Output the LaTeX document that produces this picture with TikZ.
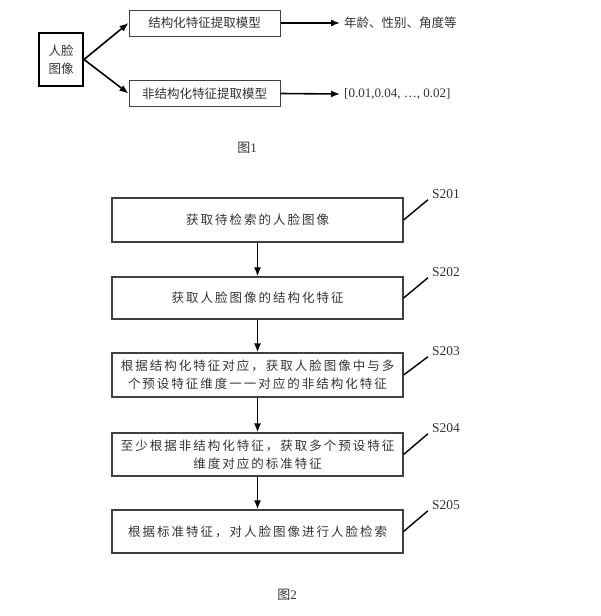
\documentclass[tikz,border=0pt]{standalone}
\usepackage{fontspec}
\setmainfont{Liberation Serif}
\newfontfamily\cjk{Noto Sans CJK SC}
\newfontfamily\cjkwide[LetterSpace=16]{Noto Sans CJK SC}
\usepackage{xcolor}
\usepackage{tikz}
\usetikzlibrary{arrows.meta}
\definecolor{inkgray}{gray}{0.2}
\definecolor{linegray}{gray}{0.25}

\begin{document}
\begin{tikzpicture}[x=1pt,y=-1pt,
    facebox/.style={draw,line width=2pt,minimum width=44pt,minimum height=53pt,inner sep=0pt,align=center,font=\fontsize{12.5}{18}\cjk,text=inkgray},
    modelbox/.style={draw=linegray,line width=1pt,minimum width=151pt,minimum height=26pt,inner sep=0pt,font=\fontsize{12.5}{15}\cjk,text=inkgray},
    outtext/.style={anchor=west,inner xsep=4pt,inner ysep=0pt,font=\fontsize{13}{15}\selectfont,text=inkgray},
    stepbox/.style={draw=linegray,line width=1.2pt,minimum width=291pt,minimum height=43pt,inner sep=0pt,align=center,font=\fontsize{12.5}{18}\cjkwide,text=inkgray},
    steplabel/.style={inner sep=1pt,font=\fontsize{13.5}{15}\selectfont,text=inkgray},
    caption/.style={inner sep=0pt,font=\fontsize{13}{15}\selectfont,text=inkgray},
    flow/.style={-{Latex[length=9pt,width=7pt]},line width=1.6pt},
    leader/.style={line width=1.4pt}]
    \useasboundingbox (0,0) rectangle (600,616);
    % figure 1
    \node[facebox] (face) at (61,59.5) {人脸\\图像};
    \node[modelbox] (m1) at (204.5,23) {结构化特征提取模型};
    \node[modelbox] (m2) at (204.5,93.5) {非结构化特征提取模型};
    \node[outtext,font=\fontsize{12.5}{15}\cjk] (o1) at (340,23) {年龄、性别、角度等};
    \node[outtext] (o2) at (340,94) {[0.01,0.04, …, 0.02]};
    \draw[flow] (face.east) to (m1.west);
    \draw[flow] (face.east) to (m2.west);
    \draw[flow] (m1.east) to (o1.west);
    \draw[flow] (m2.east) to (o2.west);
    \node[caption] (cap1) at (247,148) {{\cjk 图}1};
    % figure 2
    \node[stepbox,minimum height=44pt] (b1) at (257.5,220) {获取待检索的人脸图像};
    \node[stepbox,minimum height=42pt] (b2) at (257.5,298) {获取人脸图像的结构化特征};
    \node[stepbox,minimum height=44pt] (b3) at (257.5,375) {根据结构化特征对应，获取人脸图像中与多\\个预设特征维度一一对应的非结构化特征};
    \node[stepbox] (b4) at (257.5,454.5) {至少根据非结构化特征，获取多个预设特征\\维度对应的标准特征};
    \node[stepbox] (b5) at (257.5,531.5) {根据标准特征，对人脸图像进行人脸检索};
    \node[steplabel] (s1) at (446,194) {S201};
    \node[steplabel] (s2) at (446,272) {S202};
    \node[steplabel] (s3) at (446,351) {S203};
    \node[steplabel] (s4) at (446,428) {S204};
    \node[steplabel] (s5) at (446,505) {S205};
    \draw[flow] (b1.south) to (b2.north);
    \draw[flow] (b2.south) to (b3.north);
    \draw[flow] (b3.south) to (b4.north);
    \draw[flow] (b4.south) to (b5.north);
    \draw[leader] (b1.east) to ([xshift=-3pt]s1.south west);
    \draw[leader] (b2.east) to ([xshift=-3pt]s2.south west);
    \draw[leader] (b3.east) to ([xshift=-3pt]s3.south west);
    \draw[leader] (b4.east) to ([xshift=-3pt]s4.south west);
    \draw[leader] (b5.east) to ([xshift=-3pt]s5.south west);
    \node[caption] (cap2) at (287,595) {{\cjk 图}2};
\end{tikzpicture}
\end{document}
